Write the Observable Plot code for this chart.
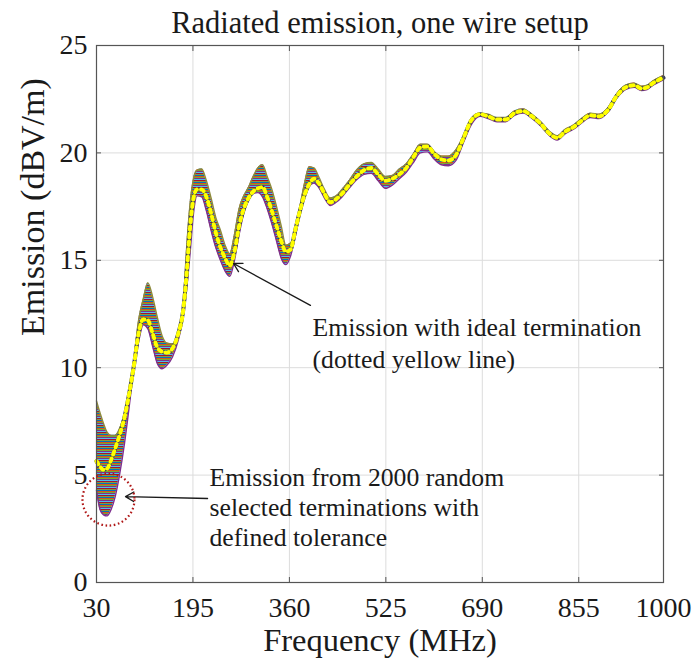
<!DOCTYPE html>
<html>
<head>
<meta charset="utf-8">
<script src="https://cdn.jsdelivr.net/npm/d3@7"></script>
<script src="https://cdn.jsdelivr.net/npm/@observablehq/plot@0.6"></script>
<style>
  html, body { margin: 0; padding: 0; background: #fff; }
</style>
</head>
<body>
<div id="chart"></div>
<script>
// ---- Data ----
const freq = [30, 36, 42, 48, 55, 62, 70, 78, 86, 94, 102, 110, 118, 126, 134, 142, 150, 160, 170, 178,
  184, 190, 196, 202, 210, 218, 226, 234, 242, 250, 258, 266, 274, 282, 290, 298, 306, 314, 322, 330,
  338, 346, 354, 362, 370, 378, 386, 394, 402, 410, 420, 430, 440, 450, 462, 475, 488, 500, 512, 524,
  536, 548, 560, 572, 584, 596, 608, 620, 632, 645, 658, 672, 686, 700, 715, 730, 745, 760, 775, 790,
  805, 818, 832, 846, 860, 875, 890, 905, 920, 935, 950, 962, 972, 982, 992, 1000];

// ideal termination (dotted yellow line)
const ideal = [5.65, 5.4, 5.25, 5.3, 5.7, 6.25, 6.9, 7.7, 8.8, 10.1, 11.6, 12.25, 12.2, 11.6, 10.95, 10.75, 10.7, 10.9, 11.6, 12.6,
  14.3, 16.5, 17.9, 18.3, 18.3, 17.95, 17.2, 16.3, 15.6, 15.1, 14.75, 15.4, 16.6, 17.4, 17.9, 18.2, 18.35, 18.4, 17.95, 17.3,
  16.6, 15.9, 15.4, 15.5, 16.4, 17.3, 18.05, 18.55, 18.8, 18.6, 18.1, 17.7, 17.85, 18.1, 18.5, 18.9, 19.2, 19.3, 19.0, 18.7,
  18.8, 19.0, 19.3, 19.8, 20.25, 20.3, 19.95, 19.7, 19.65, 19.9, 20.7, 21.55, 21.8, 21.7, 21.55, 21.55, 21.85, 21.95, 21.7, 21.35,
  20.9, 20.7, 21.0, 21.2, 21.5, 21.75, 21.7, 22.0, 22.65, 23.05, 23.15, 23.0, 23.05, 23.25, 23.4, 23.5];

// upper envelope of the 2000 random terminations
const upper = [8.45, 7.9, 7.4, 7.0, 6.85, 6.85, 7.2, 7.9, 8.9, 10.4, 12.2, 13.2, 13.95, 13.3, 12.35, 11.5, 11.15, 11.1, 11.6, 12.8,
  15.5, 17.6, 18.8, 19.2, 19.25, 18.7, 17.9, 17.0, 16.4, 15.7, 15.3, 16.2, 17.4, 18.0, 18.4, 18.9, 19.3, 19.45, 18.9, 18.3,
  17.5, 16.6, 15.7, 15.8, 16.3, 17.5, 18.6, 19.35, 19.3, 18.9, 18.3, 17.9, 18.0, 18.3, 18.7, 19.2, 19.5, 19.55, 19.25, 18.9,
  18.95, 19.25, 19.5, 19.95, 20.4, 20.4, 20.05, 19.85, 19.85, 20.15, 20.8, 21.6, 21.85, 21.8, 21.65, 21.65, 21.95, 22.05, 21.8, 21.45,
  21.0, 20.8, 21.1, 21.3, 21.6, 21.85, 21.8, 22.1, 22.75, 23.15, 23.25, 23.1, 23.15, 23.35, 23.5, 23.6];

// lower envelope of the 2000 random terminations
const lower = [4.3, 3.4, 3.15, 3.1, 3.4, 4.0, 5.1, 6.5, 8.2, 10.0, 11.2, 12.0, 11.8, 11.0, 10.2, 9.95, 10.1, 10.5, 11.3, 12.3,
  13.6, 15.3, 17.2, 18.0, 17.95, 17.3, 16.4, 15.6, 15.0, 14.5, 14.25, 15.0, 16.2, 17.2, 17.8, 18.1, 18.15, 17.95, 17.4, 16.7,
  15.9, 15.1, 14.8, 15.2, 16.1, 17.1, 17.9, 18.45, 18.6, 18.4, 17.9, 17.55, 17.7, 17.95, 18.35, 18.75, 19.0, 19.05, 18.7, 18.35,
  18.5, 18.8, 19.1, 19.55, 20.0, 20.05, 19.7, 19.45, 19.4, 19.65, 20.5, 21.35, 21.7, 21.6, 21.45, 21.45, 21.75, 21.85, 21.6, 21.25,
  20.8, 20.6, 20.9, 21.1, 21.4, 21.65, 21.6, 21.9, 22.55, 22.95, 23.05, 22.9, 22.95, 23.15, 23.3, 23.4];

const xTicks = [30, 195, 360, 525, 690, 855, 1000];
const yTicks = [0, 5, 10, 15, 20, 25];

const titleText = "Radiated emission, one wire setup";
const xLabel = "Frequency (MHz)";
const yLabel = "Emission (dBV/m)";
const note1 = "Emission with ideal termination\n(dotted yellow line)";
const note2 = "Emission from 2000 random\nselected terminations with\ndefined tolerance";

// MATLAB-like line colours used for the band texture
const bandColors = ["#0072BD", "#D95319", "#77AC30", "#7E2F8E", "#4DBEEE", "#A2142F", "#8a9a3a"];

// ---- Build table ----
const rows = freq.map((f, i) => ({f, ideal: ideal[i], upper: upper[i], lower: lower[i]}));

const serif = "'Liberation Serif', 'Times New Roman', serif";
const curve = "monotone-x";
const ink = "#1a1a1a";
const axisGray = "#555";

const chart = Plot.plot({
  width: 696,
  height: 667,
  marginLeft: 96,
  marginRight: 33,
  marginTop: 45,
  marginBottom: 85,
  style: {fontFamily: serif, background: "#fff", color: ink},
  x: {domain: [30, 1000]},
  y: {domain: [0, 25]},
  marks: [
    Plot.gridX(xTicks, {stroke: "#dcdcdc", strokeOpacity: 1}),
    Plot.gridY(yTicks, {stroke: "#dcdcdc", strokeOpacity: 1}),
    // band of the random terminations
    Plot.areaY(rows, {x: "f", y1: "lower", y2: "upper", fill: "url(#bandStripes)", curve}),
    Plot.lineY(rows, {x: "f", y: "upper", stroke: "#8d8a3c", strokeWidth: 1.4, curve}),
    Plot.lineY(rows, {x: "f", y: "lower", stroke: "#7E2F8E", strokeWidth: 1.4, curve}),
    // ideal termination: dark core with yellow dots
    Plot.lineY(rows, {x: "f", y: "ideal", stroke: "#353b5c", strokeWidth: 4, curve}),
    Plot.lineY(rows, {x: "f", y: "ideal", stroke: "#ffff00", strokeWidth: 4, strokeDasharray: "3.4,4.2", curve}),
    // frame and inward ticks (MATLAB box)
    Plot.frame({stroke: axisGray, strokeWidth: 1.2}),
    Plot.axisX(xTicks, {anchor: "bottom", tickSize: -5, tickPadding: 20, fontSize: 28, tickFormat: d => String(d), stroke: axisGray, fill: ink, label: null}),
    Plot.axisX(xTicks, {anchor: "top", tickSize: -5, tickFormat: () => "", stroke: axisGray, label: null}),
    Plot.axisY(yTicks, {anchor: "left", tickSize: -5, tickPadding: 14, fontSize: 28, tickFormat: d => String(d), stroke: axisGray, fill: ink, label: null}),
    Plot.axisY(yTicks, {anchor: "right", tickSize: -5, tickFormat: () => "", stroke: axisGray, label: null}),
    // titles
    Plot.text([titleText], {frameAnchor: "top", lineAnchor: "bottom", dy: -13, fontSize: 30.5, fill: ink}),
    Plot.text([xLabel], {frameAnchor: "bottom", lineAnchor: "bottom", dy: 68, fontSize: 32.5, fill: ink}),
    Plot.text([yLabel], {frameAnchor: "left", rotate: -90, lineAnchor: "bottom", dx: -53, dy: 22, fontSize: 34, fill: ink}),
    // annotations
    Plot.text([{f: 399.5, v: 12.5, t: note1}], {x: "f", y: "v", text: "t", textAnchor: "start", lineAnchor: "top", lineHeight: 1.22, fontSize: 25.7, fill: ink}),
    Plot.arrow([{a: 396, b: 12.9, c: 264.4, d: 14.85}], {x1: "a", y1: "b", x2: "c", y2: "d", stroke: ink, strokeWidth: 1.3, headLength: 11}),
    Plot.text([{f: 223.3, v: 5.45, t: note2}], {x: "f", y: "v", text: "t", textAnchor: "start", lineAnchor: "top", lineHeight: 1.15, fontSize: 25.7, fill: ink}),
    Plot.arrow([{a: 220, b: 3.91, c: 79.6, d: 4.0}], {x1: "a", y1: "b", x2: "c", y2: "d", stroke: ink, strokeWidth: 1.3, headLength: 11}),
    Plot.dot([{f: 50.5, v: 3.86}], {x: "f", y: "v", r: 26, fill: "none", stroke: "#b01818", strokeWidth: 2.2, strokeDasharray: "1.6,2.6"})
  ]
});

// stripe pattern giving the multi-coloured look of the 2000 curves
const svg = d3.select(chart);
const defs = svg.insert("defs", ":first-child");
const pat = defs.append("pattern")
  .attr("id", "bandStripes")
  .attr("patternUnits", "userSpaceOnUse")
  .attr("width", 8)
  .attr("height", bandColors.length);
bandColors.forEach((c, i) => {
  pat.append("rect").attr("x", 0).attr("y", i).attr("width", 8).attr("height", 1).attr("fill", c);
});

document.getElementById("chart").appendChild(chart);
</script>
</body>
</html>
